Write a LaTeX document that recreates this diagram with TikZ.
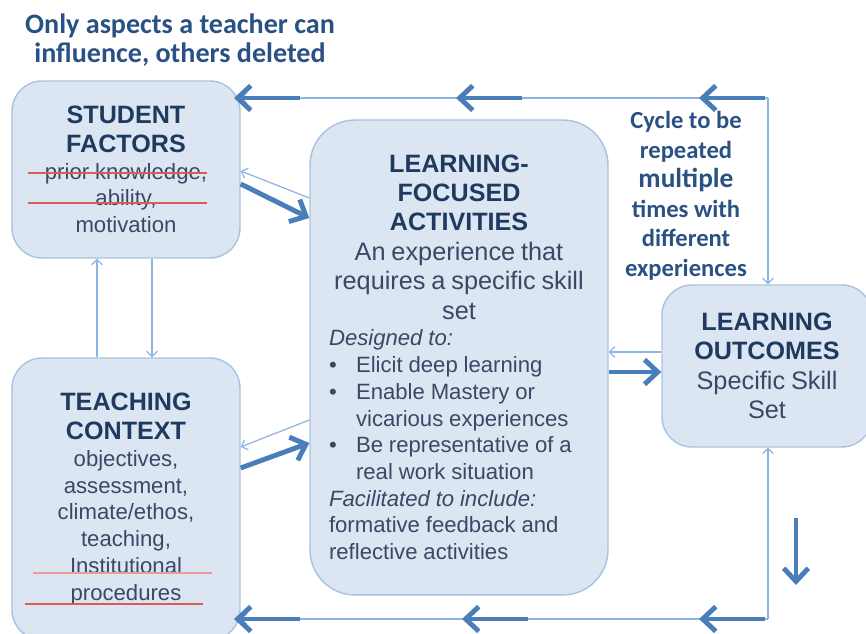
\documentclass[tikz,border=0pt]{standalone}
\usepackage{fontspec}
\setmainfont{Liberation Sans}
\newfontfamily\calibri{Carlito}
\usepackage{xcolor}
\usetikzlibrary{arrows.meta, positioning}
\definecolor{panelfill}{HTML}{DCE6F2}
\definecolor{paneldraw}{HTML}{A9C2E0}
\definecolor{flowblue}{HTML}{4A7EBB}
\definecolor{linkblue}{HTML}{8DB3E2}
\definecolor{headnavy}{HTML}{1F3A5F}
\definecolor{bodynavy}{HTML}{3A4866}
\definecolor{noteblue}{HTML}{2A5183}
\definecolor{strikered}{HTML}{DB5B57}
\setlength{\parindent}{0pt}
\newcommand{\hdfont}{\fontsize{14.3}{16.5}\selectfont\bfseries\color{headnavy}}
\newcommand{\subfont}{\fontsize{14.4}{16.8}\selectfont\color{bodynavy}}
\newcommand{\bodyfont}{\fontsize{12.6}{15.2}\selectfont\color{bodynavy}}
\newcommand{\bul}{\hangindent=0.54cm\hangafter=1\makebox[0.54cm][l]{\textbullet}}

\begin{document}
\begin{tikzpicture}[
    x=0.02cm, y=0.02cm,
    panel/.style={rectangle, draw=paneldraw, fill=panelfill, line width=0.8pt,
                  align=center, rounded corners=0.6cm, inner sep=0pt},
    flow/.style={-{Straight Barb[length=7.5pt,width=14pt]}, line width=2.8pt, flowblue},
    link/.style={-{Straight Barb[length=3pt,width=6pt]}, line width=0.7pt, linkblue},
    strike/.style={line width=1.1pt, strikered},
    note/.style={font=\calibri\bfseries, noteblue, align=center}
]
\useasboundingbox (0,0) rectangle (866,634);

% Title
\node[note, font=\calibri\bfseries\fontsize{16}{17}\selectfont] at (180,594) (title)
    {Only aspects a teacher can\\influence, others deleted};

% Panels
\node[panel, minimum width=4.56cm, minimum height=3.54cm, text width=4.2cm]
    at (126,464.5) (sf) {{\hdfont STUDENT\\FACTORS\par}
    {\bodyfont prior knowledge,\\ability,\\motivation\par}};

\node[panel, minimum width=4.56cm, minimum height=5.64cm, text width=4.2cm]
    at (126,135) (tc) {{\hdfont TEACHING\\CONTEXT\par}
    {\bodyfont objectives,\\assessment,\\climate/ethos,\\teaching,\\Institutional\\procedures\par}};

\node[panel, rounded corners=0.9cm, minimum width=5.96cm, minimum height=9.5cm, text width=5.2cm]
    at (459,276.5) (lfa) {{\hdfont LEARNING-\\FOCUSED\\ACTIVITIES\par}
    {\subfont An experience that\\requires a specific skill\\set\par}
    {\raggedright\bodyfont
    \textit{Designed to:}\par
    \bul Elicit deep learning\par
    \bul Enable Mastery or\newline vicarious experiences\par
    \bul Be representative of a\newline real work situation\par
    \textit{Facilitated to include:}\par
    formative feedback and\\reflective activities\par}};

\node[panel, minimum width=4.2cm, minimum height=3.24cm, text width=3.8cm]
    at (767,268) (lo) {{\hdfont LEARNING\\OUTCOMES\par}
    {\subfont Specific Skill\\Set\par}};

% Cycle note
\node[note, font=\calibri\bfseries\fontsize{14}{16.8}\selectfont] at (686,438) (cycle)
    {Cycle to be\\repeated\\{\fontsize{15.6}{16.8}\selectfont multiple}\\times with\\different\\experiences};

% Deleted items
\draw[strike] (28,461) -- (207,461);
\draw[strike] (28,431) -- (207,431);
\draw[strike, strikered!60] (33,61) -- (212,61);
\draw[strike] (25,30) -- (203,30);

% Cycle connectors
\coordinate (topcorner) at (768,536);
\coordinate (botcorner) at (768,15);
\draw[link] (topcorner) -- (sf.east |- topcorner);
\draw[link] (topcorner) -- (lo.north -| topcorner);
\draw[link] (botcorner) -- (lo.south -| botcorner);
\draw[link] (botcorner) -- (tc.east |- botcorner);

% Links between panels
\draw[link] (tc.north -| 97,0) -- (sf.south -| 97,0);
\draw[link] (sf.south -| 152,0) -- (tc.north -| 152,0);
\draw[link] (lfa.west |- 0,436) -- (sf.east |- 0,463);
\draw[link] (lfa.west |- 0,214) -- (tc.east |- 0,187);
\draw[link] (lo.west |- 0,282) -- (lfa.east |- 0,282);

\draw[flow] (sf.east |- 0,450) -- (lfa.west |- 0,416);
\draw[flow] (tc.east |- 0,166) -- (lfa.west |- 0,191);
\draw[flow] (lfa.east |- 0,262) -- (lo.west |- 0,262);

% Direction markers
\foreach \x in {765,522,300}
    \draw[flow] (\x,536) -- ++(-66,0);
\foreach \x in {765,528,300}
    \draw[flow] (\x,15) -- ++(-66,0);
\draw[flow] (796,116) -- (796,49);

\end{tikzpicture}
\end{document}
